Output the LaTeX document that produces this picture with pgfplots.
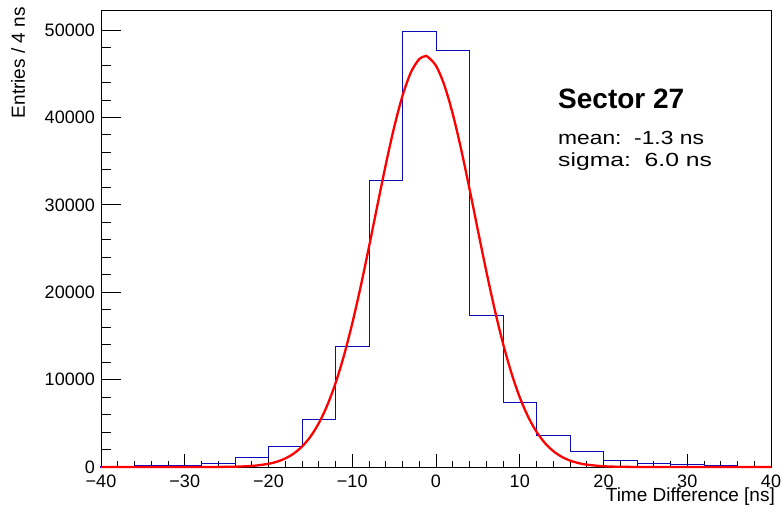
\documentclass[border=0pt]{standalone}
\usepackage{pgfplots}
\pgfplotsset{compat=1.18}
\usepackage{fontspec}
\setmainfont{Liberation Sans}
\usepackage{graphicx}
\definecolor{histblue}{RGB}{10,10,185}

\begin{document}
\begin{tikzpicture}
\begin{axis}[
  name=ax,
  scale only axis,
  width=670pt, height=457pt,
  xmin=-40, xmax=40, ymin=0, ymax=52290,
  axis line style={line width=0.9pt},
  tick align=inside,
  xtick pos=bottom, ytick pos=left,
  xtick={-40,-30,...,40},
  xticklabels={−40,−30,−20,−10,0,10,20,30,40},
  ytick={0,10000,20000,30000,40000,50000},
  yticklabels={0,10000,20000,30000,40000,50000},
  minor x tick num=4, minor y tick num=4,
  xtick style={black, line width=0.8pt, /pgfplots/major tick length=13pt, /pgfplots/minor tick length=6.5pt},
  ytick style={black, line width=0.8pt, /pgfplots/major tick length=20pt, /pgfplots/minor tick length=10pt},
  xticklabel style={anchor=north, inner sep=0pt, yshift=-8pt, font=\fontsize{18}{20}\selectfont},
  yticklabel style={anchor=east, inner sep=0pt, xshift=-6pt, font=\fontsize{18}{20}\selectfont},
  clip=false,
]
% histogram outline, 4 ns bins (each step written out)
\addplot[sharp plot, draw=histblue, line width=1pt, mark=none] coordinates {
(-40,0) (-40,50) (-36,50) (-36,150) (-32,150) (-32,170) (-28,170)
(-28,420) (-24,420) (-24,1070) (-20,1070) (-20,2350) (-16,2350)
(-16,5400) (-12,5400) (-12,13800) (-8,13800) (-8,32750) (-4,32750)
(-4,49800) (0,49800) (0,47650) (4,47650) (4,17300) (8,17300)
(8,7400) (12,7400) (12,3600) (16,3600) (16,1750) (20,1750)
(20,780) (24,780) (24,420) (28,420) (28,250) (32,250) (32,170)
(36,170) (36,100) (40,100) (40,0)
};
% gaussian fit
\addplot[red, line width=2.3pt, smooth, mark=none] coordinates {
(-40,0) (-30,1) (-25,19) (-22,122) (-20,365) (-19,606) (-18,977)
(-17,1533) (-16,2338) (-15,3467) (-14,5004) (-13,7022) (-12,9583)
(-11,12723) (-10,16427) (-9,20628) (-8,25197) (-7,29930) (-6,34583)
(-5,38864) (-4,42474) (-3,45153) (-2,46681) (-1.3,47000) (-1,46941)
(0,45910) (1,43673) (2,40401) (3,36355) (4,31819) (5,27081) (6,22424)
(7,18053) (8,14138) (9,10768) (10,7976) (11,5748) (12,4028) (13,2746)
(14,1820) (15,1174) (16,736) (17,449) (18,266) (20,86) (22,25)
(25,2) (30,0) (40,0)
};
\end{axis}
\node[rotate=90, anchor=base east, inner sep=0pt, font=\fontsize{19}{22}\selectfont]
  at ([xshift=-76pt,yshift=3pt]ax.north west) {Entries / 4 ns};
\node[anchor=base east, inner sep=0pt, font=\fontsize{19}{22}\selectfont]
  at ([xshift=4pt,yshift=-34pt]ax.south east) {Time Difference [ns]};
\node[anchor=base west, inner sep=0pt, font=\bfseries\fontsize{28}{32}\selectfont]
  at ([xshift=457pt,yshift=-98pt]ax.north west) {Sector 27};
\node[anchor=base west, inner sep=0pt, font=\fontsize{19}{22}\selectfont]
  at ([xshift=457pt,yshift=-134pt]ax.north west) {\scalebox{1.2}[1]{mean:\ \ -1.3 ns}};
\node[anchor=base west, inner sep=0pt, font=\fontsize{19}{22}\selectfont]
  at ([xshift=457pt,yshift=-156pt]ax.north west) {\scalebox{1.3}[1]{sigma:\ \ 6.0 ns}};
\pgfresetboundingbox
\path ([xshift=-101pt,yshift=-44pt]ax.south west) rectangle ([xshift=12pt,yshift=10pt]ax.north east);
\end{tikzpicture}
\end{document}
